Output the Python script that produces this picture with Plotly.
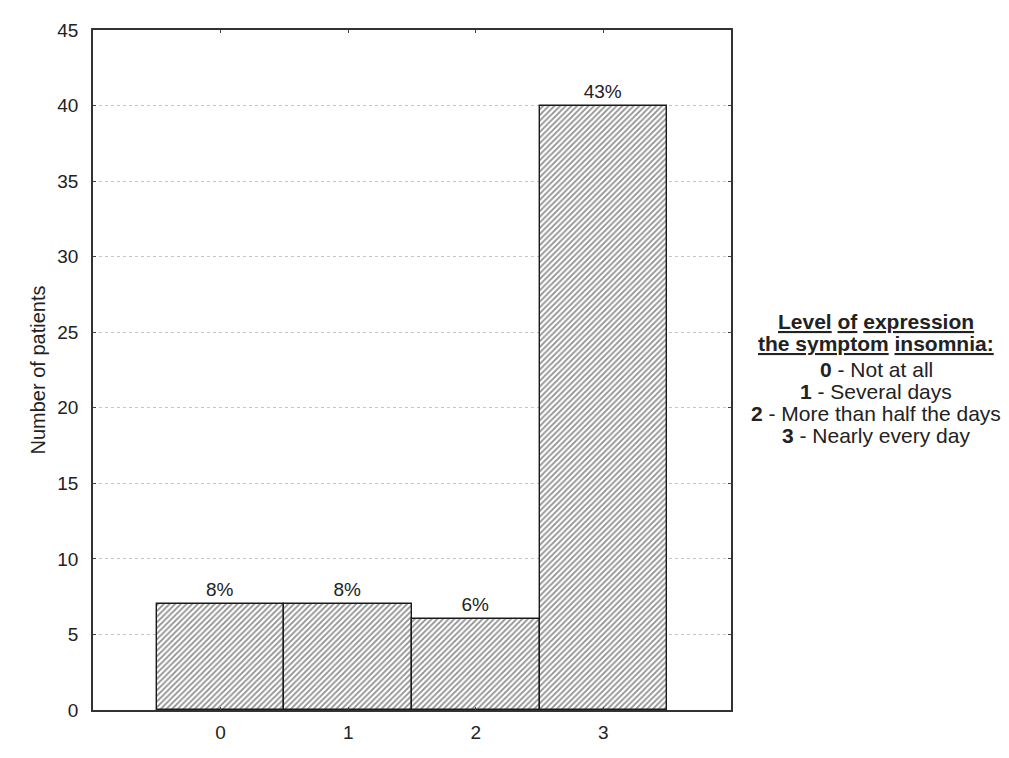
import plotly.graph_objects as go

categories = [0, 1, 2, 3]
patients = [7, 7, 6, 40]
percents = ["8%", "8%", "6%", "43%"]
y_ticks = [0, 5, 10, 15, 20, 25, 30, 35, 40, 45]

legend_lines = [
    "<b><u>Level</u> <u>of</u> <u>expression</u></b>",
    "<b><u>the symptom</u> <u>insomnia:</u></b>",
    "<b>0</b> - Not at all",
    "<b>1</b> - Several days",
    "<b>2</b> - More than half the days",
    "<b>3</b> - Nearly every day",
]
legend_line_y = [321, 343, 369, 391, 413, 435]  # window pixel centres of each line

# page body has an 8px margin; compensate so plot area lands at x 93-731, y 30-710
W, H = 1001, 750
ML, MR, MT, MB = 85, 278, 22, 48
PL, PR, PT, PB = 93, 731, 30, 710

FONT = "Liberation Sans, Arial"
TXT = "#222"

fig = go.Figure()
fig.add_trace(go.Bar(
    x=categories, y=patients, width=1,
    text=percents, textposition="outside", cliponaxis=False,
    textfont=dict(size=19, color=TXT),
    marker=dict(color="white", line=dict(color="#1a1a1a", width=1.4),
                pattern=dict(shape="/", size=4, solidity=0.45, fgcolor="#222", bgcolor="white")),
))

fig.update_layout(
    width=W, height=H,
    margin=dict(l=ML, r=MR, t=MT, b=MB),
    paper_bgcolor="white", plot_bgcolor="white",
    font=dict(family=FONT, size=19, color=TXT),
    showlegend=False, bargap=0,
    xaxis=dict(range=[-1, 4], tickvals=categories, ticks="inside", ticklen=3,
               tickfont=dict(size=19), ticklabelstandoff=4,
               showline=True, linecolor="#333", linewidth=1.5, mirror="ticks",
               showgrid=False, zeroline=False),
    yaxis=dict(range=[0, 45], tickvals=y_ticks, ticks="inside", ticklen=3,
               tickfont=dict(size=19), ticklabelstandoff=9,
               showline=True, linecolor="#333", linewidth=1.5, mirror="ticks",
               showgrid=True, gridcolor="#c4c4c4", griddash="dot", gridwidth=1,
               zeroline=False,
               title=dict(text="Number of patients", font=dict(size=20), standoff=6)),
)

cx = 876
for line, py in zip(legend_lines, legend_line_y):
    fig.add_annotation(
        x=(cx - PL) / (PR - PL), y=(PB - py) / (PB - PT),
        xref="paper", yref="paper", xanchor="center", yanchor="middle",
        text=line, showarrow=False,
        font=dict(size=21, color=TXT, family=FONT), align="center",
    )

fig.write_html("out.html")
